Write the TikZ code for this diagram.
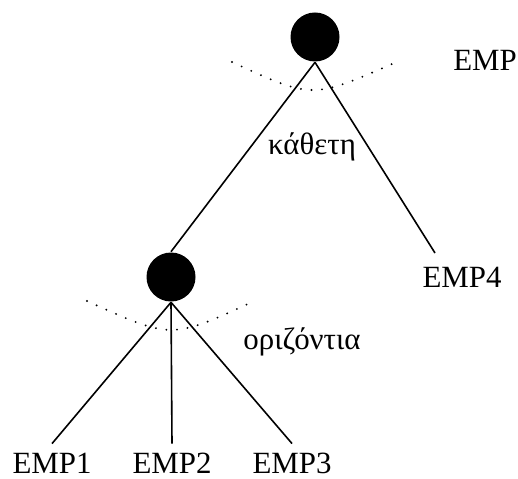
\documentclass[tikz,border=0pt]{standalone}
\usepackage{fontspec}
\setmainfont{Liberation Serif}

\begin{document}
\begin{tikzpicture}[x=1bp,y=-1bp,line width=1.6bp,
  vertex/.style={circle,fill=black,inner sep=0pt,minimum size=49bp},
  leaf/.style={anchor=base,inner sep=0pt,outer ysep=9bp,font=\fontsize{31}{36}\selectfont},
  tag/.style={anchor=base,inner sep=0pt,font=\fontsize{31}{36}\selectfont},
  split/.style={line width=2.1bp,line cap=round,dash pattern=on 0pt off 10.6bp}]
\useasboundingbox (0,0) rectangle (518,479);
% internal nodes
\node [vertex] (root) at (315,37) {};
\node [vertex] (mid) at (171,277) {};
% leaves
\node [leaf] (e1) at (52,473) {EMP1};
\node [leaf] (e2) at (172,473) {EMP2};
\node [leaf] (e3) at (292,473) {EMP3};
\coordinate (tip4) at (435,253);
\node [tag] (e4) at (462,287) {EMP4};
% labels
\node [tag] (emp) at (485,71) {EMP};
\node [tag] (vert) at (312,155) {κάθετη};
\node [tag] (horiz) at (302,349) {οριζόντια};
% edges
\draw (root.south) -- (mid.north);
\draw (root.south) -- (tip4);
\draw (mid.south) -- (e1.north);
\draw (mid.south) -- (e2.north);
\draw (mid.south) -- (e3.north);
% dotted splits
\draw [split] (232,62) .. controls (312,99) .. (392,64);
\draw [split] (87,301) .. controls (171,339) .. (248,304);
\end{tikzpicture}
\end{document}
